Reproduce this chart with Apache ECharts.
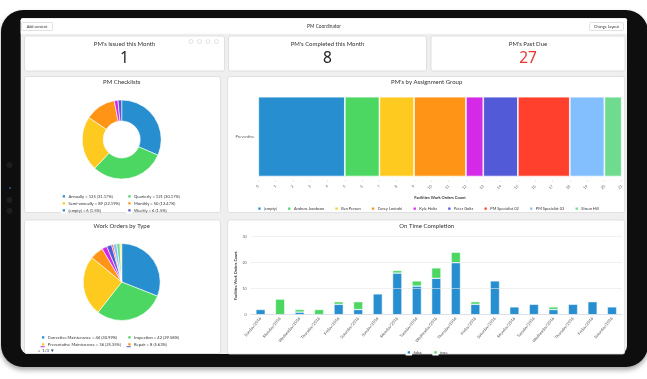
<!DOCTYPE html>
<html><head><meta charset="utf-8">
<script src="https://cdn.jsdelivr.net/npm/echarts@6/dist/echarts.min.js"></script>
<style>html,body{margin:0;padding:0;background:#fff}#c{width:647px;height:379px}</style>
</head><body><div id="c"></div>
<script>
// ---------- data ----------
const palette = ['#278ECF','#4BD762','#FFCA1F','#FF9416','#D42AE8','#535AD7','#FF402C','#83BFFF','#6EDB8F','#FFE366'];

const kpiTitles = ["PM's Issued this Month", "PM's Completed this Month", "PM's Past Due"];
const kpiValues = ['1', '8', '27'];

const checklistNames = ['Annually', 'Quarterly', 'Semi-annually', 'Monthly', '(empty)', 'Weekly'];
const checklistValues = [125, 121, 89, 50, 6, 6];
const checklistPct = ['31.17', '30.17', '22.19', '12.47', '1.5', '1.5'];

const typeNames = ['Corrective Maintenance', 'Inspection', 'Preventative Maintenance', 'Repair', 'Emergency', 'Project', 'Safety', 'Installation', 'Cleaning', 'Other'];
const typeValues = [44, 42, 36, 8, 3, 3, 1, 2, 2, 1];
const typePct = ['30.99', '29.58', '25.35', '5.63', '2.11', '2.11', '0.7', '1.41', '1.41', '0.7'];

const groupCategory = ['Preventive'];
const groupNames = ['(empty)', 'Andrew Jacobson', 'Ben Person', 'Corey Losinski', 'Kyle Holtz', 'Peter Goltz', 'PM Specialist 02', 'PM Specialist 03', 'Shaun Hill'];
const groupValues = [5, 2, 2, 3, 1, 2, 3, 2, 1];
const groupAxisMax = 21;

const dayLabels = ['Sunday/2016','Monday/2016','Wednesday/2016','Thursday/2016','Friday/2016','Saturday/2016','Sunday/2016','Monday/2016','Tuesday/2016','Wednesday/2016','Thursday/2016','Friday/2016','Saturday/2016','Monday/2016','Tuesday/2016','Wednesday/2016','Thursday/2016','Friday/2016','Saturday/2016'];
const onTimeFalse = [2, 0, 1, 0, 4, 2, 8, 16, 11, 14, 20, 4, 13, 3, 4, 2, 4, 5, 3];
const onTimeTrue  = [0, 6, 1, 2, 1, 3, 0, 1, 2, 4, 4, 1, 0, 0, 0, 1, 0, 0, 0];
const onTimeMax = 30;

// ---------- helpers ----------
const FONT = 'Lato, "Open Sans", sans-serif';
function txt(text, x, y, size, opts) {
  opts = opts || {};
  return {type:'text', x:x, y:y, z: opts.z || 5, style:{text:text, fontSize:size, fontFamily: opts.font || FONT,
    fontWeight: opts.weight || 'normal', fill: opts.color || '#333', textAlign: opts.align || 'center', textVerticalAlign:'middle'}};
}
function card(x, y, w, h) {
  return {type:'rect', z:-2, shape:{x:x, y:y, width:w, height:h, r:2}, style:{fill:'#fff', stroke:'#d9d9d9', lineWidth:0.8}};
}

const G = [];
G.push({type:'rect', z:-5, shape:{x:1, y:10, width:647, height:357, r:22}, style:{fill:'#0e0e0e', shadowBlur:5, shadowColor:'rgba(0,0,0,0.35)', shadowOffsetY:3}});
G.push({type:'circle', z:-4, shape:{cx:9.5, cy:165, r:3}, style:{fill:'#1d1d1d'}});
G.push({type:'circle', z:-4, shape:{cx:10, cy:188, r:1}, style:{fill:'#2b5a95'}});
G.push({type:'circle', z:-4, shape:{cx:9.5, cy:200, r:3}, style:{fill:'#1d1d1d'}});
G.push({type:'circle', z:-4, shape:{cx:9.5, cy:211, r:3}, style:{fill:'#1d1d1d'}});
G.push({type:'rect', z:-4, shape:{x:20.7, y:18.3, width:606.3, height:335.7, r:[2,2,8,8]}, style:{fill:'#efefef'}});
G.push({type:'rect', z:-3, shape:{x:20.7, y:18.3, width:606.3, height:15.5, r:[2,2,0,0]}, style:{fill:'#fff'}});
G.push({type:'rect', z:-2, shape:{x:21.5, y:22.5, width:31, height:8, r:1}, style:{fill:'#fff', stroke:'#cfcfcf', lineWidth:0.6}});
G.push(txt('Add content', 37, 26.6, 3.8));
G.push({type:'rect', z:-2, shape:{x:589.5, y:22.5, width:34, height:8, r:1}, style:{fill:'#fff', stroke:'#cfcfcf', lineWidth:0.6}});
G.push(txt('Change Layout', 606.5, 26.6, 3.8));
G.push(txt('PM Coordinator', 324, 26.6, 4.8));

// KPI cards
const kpiBoxes = [[24.5, 200], [228.5, 198], [431, 194]];
kpiBoxes.forEach((b, i) => {
  G.push(card(b[0], 36, b[1], 35));
  G.push(txt(kpiTitles[i], b[0] + b[1] / 2, 44.5, 6));
  G.push(txt(kpiValues[i], b[0] + b[1] / 2, 58.8, 15.5, {color: i === 2 ? '#e8382c' : '#222', font:'"Liberation Sans Narrow", "Noto Sans", sans-serif'}));
});
[191, 199.5, 208, 216.5].forEach(cx => G.push({type:'circle', z:-1, shape:{cx:cx, cy:41.5, r:2}, style:{fill:'#fff', stroke:'#d0d0d0', lineWidth:0.6}}));

// chart cards
G.push(card(24.5, 76.5, 196, 136));
G.push(card(227.7, 76.5, 397, 136));
G.push(card(24.5, 220, 196, 133.5));
G.push(card(227.7, 220, 397, 134));
G.push(txt('PM Checklists', 121.7, 82, 6));
G.push(txt("PM's by Assignment Group", 426.7, 82.3, 6));
G.push(txt('Work Orders by Type', 121.7, 226.3, 6));
G.push(txt('On Time Completion', 426.7, 226.2, 6));
// legend pager for Work Orders by Type
G.push({type:'text', x:37, y:350.8, z:5, style:{text:'{u|▲} 1/3 {d|▼}', fontSize:4.2, fontFamily:FONT, fill:'#333', textVerticalAlign:'middle',
  rich:{u:{fill:'#bbbbbb', fontSize:4.2}, d:{fill:'#1f3f80', fontSize:4.6}}}});
G.push({type:'rect', z:5, shape:{x:40.5, y:346.2, width:4.2, height:1}, style:{fill:palette[4]}});
G.push({type:'rect', z:5, shape:{x:126.5, y:346.2, width:4.2, height:1}, style:{fill:palette[5]}});

// ---------- series ----------
const series = [];
groupNames.forEach((n, i) => {
  series.push({name:n, type:'bar', stack:'grp', xAxisIndex:0, yAxisIndex:0, barWidth:'92%',
    itemStyle:{color:palette[i % palette.length], borderColor:'#fff', borderWidth:0.7}, data:[groupValues[i]]});
});
series.push({name:'false', type:'bar', stack:'ot', xAxisIndex:1, yAxisIndex:1, barWidth:9.3,
  itemStyle:{color:palette[0], borderColor:'#fff', borderWidth:0.5}, data:onTimeFalse});
series.push({name:'true', type:'bar', stack:'ot', xAxisIndex:1, yAxisIndex:1, barWidth:9.3,
  itemStyle:{color:palette[1], borderColor:'#fff', borderWidth:0.5}, data:onTimeTrue.map(v => v === 0 ? null : v)});
series.push({name:'PM Checklists', type:'pie', center:[121.7, 139.5], radius:[18.5, 39.5], startAngle:90,
  label:{show:false}, labelLine:{show:false}, emphasis:{disabled:true},
  itemStyle:{borderColor:'#fff', borderWidth:0.6},
  data: checklistNames.map((n, i) => ({name:n, value:checklistValues[i], itemStyle:{color:palette[i]}}))});
series.push({name:'Work Orders by Type', type:'pie', center:[121.7, 282], radius:[0, 38.5], startAngle:90,
  label:{show:false}, labelLine:{show:false}, emphasis:{disabled:true},
  itemStyle:{borderColor:'#fff', borderWidth:0.6},
  data: typeNames.map((n, i) => ({name:n, value:typeValues[i], itemStyle:{color:palette[i]}}))});

const legBase = {icon:'rect', itemWidth:4.3, itemHeight:4.3, itemGap:0.7, padding:0, selectedMode:false,
  textStyle:{fontSize:4.1, fontFamily:FONT, color:'#333', padding:[0,0,0,-2.5], lineHeight:5}};
function leg(extra) { return Object.assign({}, legBase, extra, {textStyle:Object.assign({}, legBase.textStyle, extra.textStyle || {})}); }
const chkFmt = name => { const i = checklistNames.indexOf(name); return name + ' = ' + checklistValues[i] + ' (' + checklistPct[i] + '%)'; };
const typFmt = name => { const i = typeNames.indexOf(name); return name + ' = ' + typeValues[i] + ' (' + typePct[i] + '%)'; };

const option = {
  animation:false,
  textStyle:{fontFamily:FONT},
  graphic:G,
  grid:[
    {left:258.3, top:93.3, width:363.4, height:86.7, containLabel:false},
    {left:250.8, top:236.7, width:371, height:78, containLabel:false}
  ],
  xAxis:[
    {gridIndex:0, z:10, type:'value', min:0, max:groupAxisMax, interval:1,
      axisLine:{show:false}, splitLine:{show:false},
      axisTick:{show:true, length:2, lineStyle:{color:'#ccd6eb', width:0.5}},
      axisLabel:{fontSize:3.8, color:'#666', rotate:45, margin:5.5},
      name:'Facilities Work Orders Count', nameLocation:'middle', nameGap:15.5, nameMoveOverlap:false,
      nameTextStyle:{fontSize:4, color:'#333', fontWeight:'bold'}},
    {gridIndex:1, z:10, type:'category', data:dayLabels,
      axisLine:{lineStyle:{color:'#ccd6eb', width:0.6}}, axisTick:{show:false},
      axisLabel:{fontSize:4, color:'#555', rotate:50, margin:3, interval:0}}
  ],
  yAxis:[
    {gridIndex:0, z:10, type:'category', data:groupCategory,
      axisLine:{show:false}, axisTick:{show:false},
      axisLabel:{fontSize:4, color:'#555', margin:4}},
    {gridIndex:1, z:10, type:'value', min:0, max:onTimeMax, interval:10,
      axisLine:{show:false}, axisTick:{show:false},
      splitLine:{lineStyle:{color:'#e6e6e6', width:0.6}},
      axisLabel:{fontSize:3.8, color:'#666', margin:4},
      name:'Facilities Work Orders Count', nameLocation:'middle', nameGap:13.5, nameRotate:90, nameMoveOverlap:false,
      nameTextStyle:{fontSize:3.8, color:'#333', fontWeight:'bold'}}
  ],
  legend:[
    leg({data:groupNames, left:256.3, top:205.5, orient:'horizontal', itemGap:9.3, textStyle:{fontSize:3.9}}),
    leg({data:['false','true'], left:405.7, top:349.3, orient:'horizontal', itemGap:10.5}),
    leg({data:[checklistNames[0], checklistNames[2], checklistNames[4]], left:60.7, top:193.2, orient:'vertical', formatter:chkFmt}),
    leg({data:[checklistNames[1], checklistNames[3], checklistNames[5]], left:126.3, top:193.2, orient:'vertical', formatter:chkFmt}),
    leg({data:[typeNames[0], typeNames[2]], left:40, top:334.3, orient:'vertical', formatter:typFmt}),
    leg({data:[typeNames[1], typeNames[3]], left:126.3, top:334.3, orient:'vertical', formatter:typFmt})
  ],
  series:series
};
const chart = echarts.init(document.getElementById('c'), null, {renderer:'canvas'});
chart.setOption(option);
</script></body></html>
